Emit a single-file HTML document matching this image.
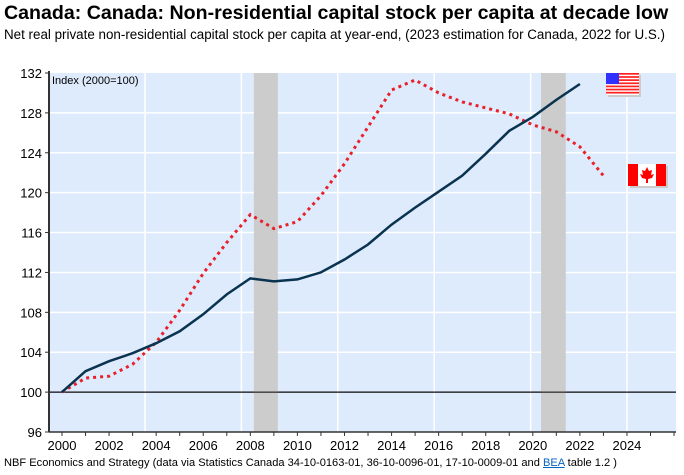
<!DOCTYPE html>
<html><head><meta charset="utf-8"><style>
body{margin:0;background:#fff;font-family:"Liberation Sans",Arial,sans-serif;}
#wrap{position:relative;width:684px;height:475px;overflow:hidden;}
.t{position:absolute;white-space:nowrap;color:#000;}
</style></head><body>
<div id="wrap">
<div class="t" style="left:4px;top:2px;font-size:19.6px;font-weight:bold;">Canada: Canada: Non-residential capital stock per capita at decade low</div>
<div class="t" style="left:4px;top:27px;font-size:13.4px;">Net real private non-residential capital stock per capita at year-end, (2023 estimation for Canada, 2022 for U.S.)</div>
<svg id="svg" width="684" height="475" style="position:absolute;left:0;top:0"></svg>
<div class="t" style="left:4px;top:457px;font-size:11.1px;">NBF Economics and Strategy (data via Statistics Canada 34-10-0163-01, 36-10-0096-01, 17-10-0009-01 and <span style="color:#0563c1;text-decoration:underline">BEA</span> table 1.2 )</div>
</div>
<script>
const years=[2000,2001,2002,2003,2004,2005,2006,2007,2008,2009,2010,2011,2012,2013,2014,2015,2016,2017,2018,2019,2020,2021,2022,2023];
const usValues=[100,102.1,103.1,103.9,104.9,106.1,107.8,109.8,111.4,111.1,111.3,112.0,113.3,114.8,116.8,118.5,120.1,121.7,123.9,126.2,127.6,129.3,130.9,null];
const caValues=[100,101.4,101.6,102.8,105.0,108.2,111.9,115.0,117.8,116.4,117.1,119.7,122.9,126.6,130.3,131.3,130.0,129.1,128.5,127.9,126.8,126.1,124.6,121.7];
const yTicks=[96,100,104,108,112,116,120,124,128,132];
const xTicks=[2000,2002,2004,2006,2008,2010,2012,2014,2016,2018,2020,2022,2024];
const recessions=[[2008.15,2009.17],[2020.35,2021.4]];
const NS="http://www.w3.org/2000/svg";
const svg=document.getElementById('svg');
const L=49,R=676,T=73,B=432;
const x=v=>62+(v-2000)*23.54;
const y=v=>B-(v-96)*(B-T)/36;
function mk(tag,a,parent){const e=document.createElementNS(NS,tag);for(const k in a)e.setAttribute(k,a[k]);(parent||svg).appendChild(e);return e;}
let e;
e=mk('rect',{x:L,y:T,width:R-L,height:B-T,fill:'#deebfc'});


for(let gx=145;gx<R;gx+=96.4){e=mk('line',{x1:gx,x2:gx,y1:T,y2:B,stroke:'#fff','stroke-width':1.5});

}
yTicks.forEach(t=>{if(t>96&&t<132){e=mk('line',{x1:L,x2:R,y1:y(t),y2:y(t),stroke:t==100?'#000':'#fff','stroke-width':t==100?1:1.5});

}});
recessions.forEach(r=>{e=mk('rect',{x:x(r[0]),y:T,width:x(r[1])-x(r[0]),height:B-T,fill:'#cccccc'});

});
e=mk('line',{x1:L,x2:R,y1:y(100),y2:y(100),stroke:'#000','stroke-width':1});


function path(vals){let d='';vals.forEach((v,i)=>{if(v==null)return;d+=(d?'L':'M')+x(years[i]).toFixed(1)+','+y(v).toFixed(1);});return d;}
e=mk('path',{d:path(caValues),fill:'none',stroke:'#e8202a','stroke-width':3,'stroke-dasharray':'3,4'});


e=mk('path',{d:path(usValues),fill:'none',stroke:'#0a3350','stroke-width':2.5});


e=mk('line',{x1:L,x2:L,y1:T-2,y2:B,stroke:'#333','stroke-width':2});


e=mk('line',{x1:L,x2:R,y1:B,y2:B,stroke:'#333','stroke-width':1.5});


yTicks.forEach(t=>{mk('line',{x1:L-4,x2:L,y1:y(t),y2:y(t),stroke:'#333'});
e=mk('text',{x:L-7,y:y(t)+5,'text-anchor':'end','font-size':13,'font-family':'Liberation Sans'});e.textContent=t;

});
for(let yr=2000;yr<=2026;yr++){mk('line',{x1:x(yr),x2:x(yr),y1:B,y2:B+4,stroke:'#333'});}
xTicks.forEach(t=>{e=mk('text',{x:x(t),y:B+18,'text-anchor':'middle','font-size':13,'font-family':'Liberation Sans'});e.textContent=t;

});
e=mk('text',{x:52,y:84,'font-size':11,'font-family':'Liberation Sans'});e.textContent='Index (2000=100)';


const g1=mk('g',{});


mk('rect',{x:608,y:75,width:33,height:22,fill:'#ccc'},g1);
mk('rect',{x:606,y:73,width:33,height:22,fill:'#fff'},g1);
for(let i=0;i<7;i++)mk('rect',{x:606,y:73+i*3.14,width:33,height:1.7,fill:'#ff2020'},g1);
mk('rect',{x:606,y:73,width:13,height:11,fill:'#3030ff'},g1);
const g2=mk('g',{});


mk('rect',{x:630,y:166,width:38,height:22,fill:'#ccc'},g2);
mk('rect',{x:628,y:164,width:38,height:22,fill:'#ff0000'},g2);
mk('rect',{x:638,y:164,width:18,height:22,fill:'#fff'},g2);
mk('path',{d:'M647,167 L649,171 L652,170 L651,175 L654,174 L652,178 L648,179 L648,183 L646,183 L646,179 L642,178 L640,174 L643,175 L642,170 L645,171 Z',fill:'#ff0000'},g2);
</script>
</body></html>
